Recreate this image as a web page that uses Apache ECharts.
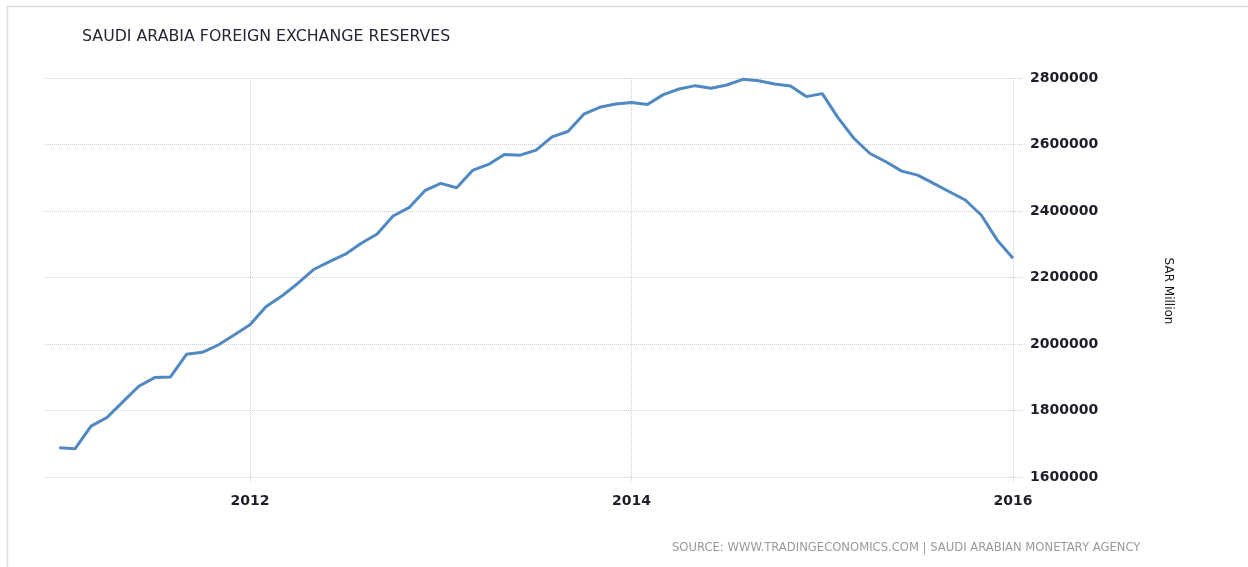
<!DOCTYPE html>
<html>
<head>
<meta charset="utf-8">
<script src="https://cdn.jsdelivr.net/npm/echarts@6/dist/echarts.min.js"></script>
<style>html,body{margin:0;padding:0;background:#fff}#c{width:1248px;height:567px}</style>
</head>
<body>
<div id="c"></div>
<script>
var title = 'SAUDI ARABIA FOREIGN EXCHANGE RESERVES';
var source = 'SOURCE: WWW.TRADINGECONOMICS.COM | SAUDI ARABIAN MONETARY AGENCY';
var unitName = 'SAR Million';
var startYear = 2011;
var reserves = [
  1688000, 1685000, 1753000, 1779000, 1826000, 1873000, 1899000, 1901000, 1969000, 1975000, 1997000, 2027000,
  2058000, 2112000, 2144000, 2182000, 2224000, 2248000, 2270000, 2303000, 2331000, 2385000, 2410000, 2461000,
  2483000, 2470000, 2522000, 2540000, 2570000, 2568000, 2583000, 2623000, 2639000, 2691000, 2712000, 2722000,
  2726000, 2720000, 2750000, 2767000, 2777000, 2769000, 2779000, 2796000, 2792000, 2782000, 2776000, 2744000,
  2753000, 2680000, 2618000, 2573000, 2548000, 2520000, 2508000, 2483000, 2458000, 2433000, 2388000, 2313000,
  2258000
];
var xTickYears = [2012, 2014, 2016];
var xMin = 2010.92, xMax = 2016;
var yMin = 1600000, yMax = 2800000, yStep = 200000;

// x position in decimal years: one point per month starting January of startYear
var seriesData = reserves.map(function (v, i) {
  return [startYear + i / 12, v];
});

var chart = echarts.init(document.getElementById('c'));
chart.setOption({
  animation: false,
  backgroundColor: '#fff',
  grid: { left: 44, right: 235, top: 78, bottom: 90 },
  graphic: [
    { type: 'rect', shape: { x: 7.5, y: 6.5, width: 1260, height: 600 }, style: { fill: null, stroke: '#dcdcdc', lineWidth: 1.5 }, silent: true },
    { type: 'text', left: 82, top: 29, style: { text: title, fill: '#262636', font: '15.8px "DejaVu Sans"' } },
    { type: 'text', left: 672, top: 542, style: { text: source, fill: '#9a9a9a', font: '11.6px "DejaVu Sans"' } },
    { type: 'text', x: 1168, y: 291, rotation: -Math.PI / 2,
      style: { text: unitName, fill: '#111', font: '12px "DejaVu Sans"', align: 'center', verticalAlign: 'middle' } }
  ],
  xAxis: {
    type: 'value',
    min: xMin,
    max: xMax,
    axisLine: { show: false },
    axisTick: { show: true, customValues: xTickYears, length: 6, lineStyle: { color: '#cfcfcf', type: 'dotted' } },
    axisLabel: {
      customValues: xTickYears,
      formatter: function (v) { return String(Math.round(v)); },
      color: '#1e1e2a', fontSize: 14, fontWeight: 'bold', fontFamily: 'DejaVu Sans', margin: 17
    },
    splitLine: { show: true, lineStyle: { color: '#cfcfcf', type: 'dotted', width: 1 } }
  },
  yAxis: {
    type: 'value',
    position: 'right',
    min: yMin, max: yMax, interval: yStep,
    axisLine: { show: false },
    axisTick: { show: true, length: 10, lineStyle: { color: '#cfcfcf', type: 'dotted' } },
    axisLabel: {
      formatter: function (v) { return String(v); },
      color: '#1e1e2a', fontSize: 14, fontWeight: 'bold', fontFamily: 'DejaVu Sans', margin: 17
    },
    splitLine: { show: true, lineStyle: { color: '#cfcfcf', type: 'dotted', width: 1 } }
  },
  series: [{
    type: 'line',
    data: seriesData,
    showSymbol: false,
    lineStyle: { color: '#5089c2', width: 3 },
    itemStyle: { color: '#5089c2' }
  }]
});
</script>
</body>
</html>
